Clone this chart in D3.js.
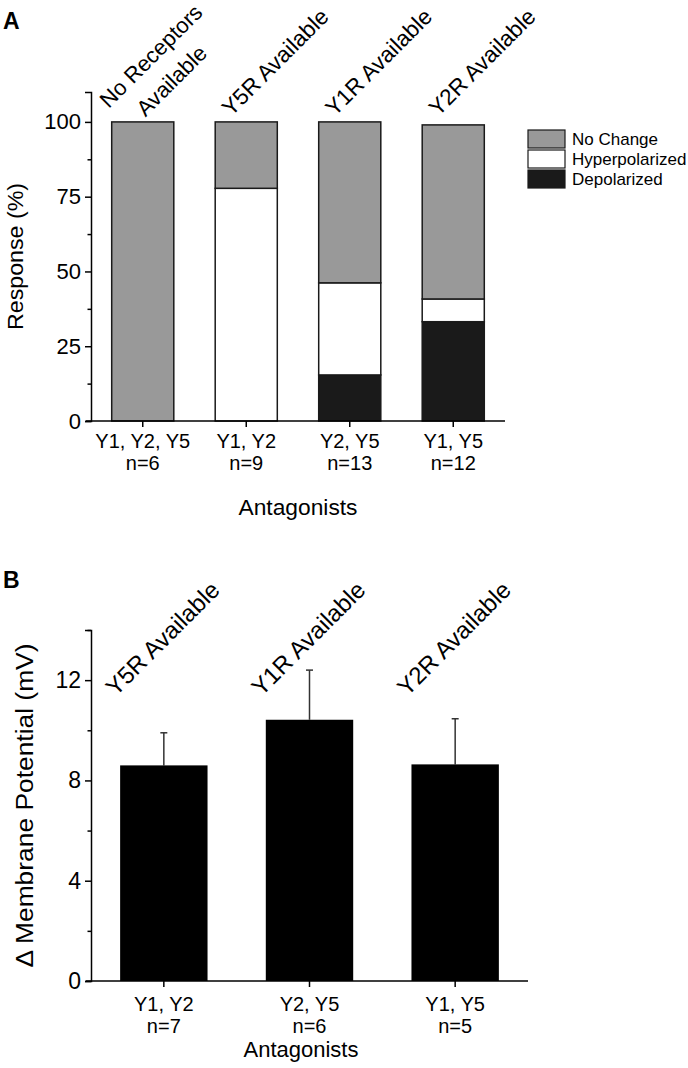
<!DOCTYPE html>
<html>
<head>
<meta charset="utf-8">
<script src="https://cdn.jsdelivr.net/npm/d3@7"></script>
<style>
  html, body { margin: 0; padding: 0; background: #fff; }
  svg { display: block; font-family: "Liberation Sans", Arial, Helvetica, sans-serif; }
</style>
</head>
<body>
<svg id="chart" width="688" height="1068"></svg>
<script>
// ---------- Panel A data ----------
const groupsA = ["Y1, Y2, Y5", "Y1, Y2", "Y2, Y5", "Y1, Y5"];
const nA = ["n=6", "n=9", "n=13", "n=12"];
const headersA = [["No Receptors", "Available"], ["Y5R Available"], ["Y1R Available"], ["Y2R Available"]];
const depolarized = [0, 0, 15.4, 33.2];
const hyperpolarized = [0, 77.8, 30.8, 7.6];
const noChange = [100, 22.2, 53.8, 58.2];
const seriesNamesA = ["No Change", "Hyperpolarized", "Depolarized"];
const seriesColorsA = ["#999999", "#ffffff", "#1a1a1a"];
const yTicksA = [0, 25, 50, 75, 100];
const yMinorA = [12.5, 37.5, 62.5, 87.5];

// ---------- Panel B data ----------
const groupsB = ["Y1, Y2", "Y2, Y5", "Y1, Y5"];
const nB = ["n=7", "n=6", "n=5"];
const headersB = ["Y5R Available", "Y1R Available", "Y2R Available"];
const meanB = [8.6, 10.42, 8.64];
const errB = [1.3, 1.98, 1.82];
const yTicksB = [0, 4, 8, 12];
const yMinorB = [2, 6, 10, 14];

const svg = d3.select("#chart");
const black = "#000";

function drawYAxis(g, y, x0, ticks, minor, fs) {
  const ax = d3.axisLeft(y).tickValues(ticks).tickSize(6).tickPadding(4).tickFormat(d3.format("d"));
  const ga = g.append("g").attr("transform", `translate(${x0},0)`).call(ax);
  ga.select(".domain").attr("stroke", black).attr("stroke-width", 1.5);
  ga.selectAll(".tick line").attr("stroke", black).attr("stroke-width", 1.5);
  ga.selectAll(".tick text").attr("font-size", fs).attr("fill", "#000")
    .attr("font-family", "Liberation Sans, Arial, sans-serif");
  const gm = g.append("g").attr("transform", `translate(${x0},0)`)
    .call(d3.axisLeft(y).tickValues(minor).tickSize(3.5).tickFormat(""));
  gm.select(".domain").remove();
  gm.selectAll(".tick line").attr("stroke", black).attr("stroke-width", 1.5);
}

function drawXAxis(g, x, y0, xStart, xEnd, labels1, labels2, line1, line2, fs) {
  g.append("line").attr("x1", xStart).attr("x2", xEnd).attr("y1", y0).attr("y2", y0)
    .attr("stroke", black).attr("stroke-width", 1.5);
  const ticks = g.append("g");
  x.domain().forEach((d, i) => {
    const cx = x(d) + x.bandwidth() / 2;
    ticks.append("line").attr("x1", cx).attr("x2", cx).attr("y1", y0).attr("y2", y0 + 6)
      .attr("stroke", black).attr("stroke-width", 1.5);
    ticks.append("text").attr("x", cx).attr("y", line1).attr("text-anchor", "middle")
      .attr("font-size", fs).text(labels1[i]);
    ticks.append("text").attr("x", cx).attr("y", line2).attr("text-anchor", "middle")
      .attr("font-size", fs).text(labels2[i]);
  });
}

// ================= Panel A =================
{
  const g = svg.append("g");
  const y = d3.scaleLinear().domain([0, 110]).range([421, 92]);
  const x = d3.scaleBand().domain(groupsA).range([91, 505]).paddingInner(0.4).paddingOuter(0.2);

  const rows = groupsA.map((gname, i) => ({
    group: gname,
    "Depolarized": depolarized[i],
    "Hyperpolarized": hyperpolarized[i],
    "No Change": noChange[i]
  }));
  const stack = d3.stack().keys(["Depolarized", "Hyperpolarized", "No Change"]);
  const layers = stack(rows);
  const colorOf = d3.scaleOrdinal().domain(seriesNamesA).range(seriesColorsA);

  layers.forEach(layer => {
    g.append("g").selectAll("rect")
      .data(layer.filter(d => d[1] - d[0] > 0))
      .join("rect")
      .attr("x", d => x(d.data.group))
      .attr("width", x.bandwidth())
      .attr("y", d => y(d[1]))
      .attr("height", d => y(d[0]) - y(d[1]))
      .attr("fill", colorOf(layer.key))
      .attr("stroke", "#1a1a1a")
      .attr("stroke-width", 1.5);
  });

  drawYAxis(g, y, 91, yTicksA, yMinorA, 22);
  drawXAxis(g, x, 421, 86, 505, groupsA, nA, 448, 470, 20);

  g.append("text").attr("transform", `translate(23,${(92 + 421) / 2}) rotate(-90)`)
    .attr("text-anchor", "middle").attr("font-size", 22)
    .attr("textLength", 147).attr("lengthAdjust", "spacingAndGlyphs").text("Response (%)");
  g.append("text").attr("x", 298).attr("y", 515).attr("text-anchor", "middle")
    .attr("font-size", 22).attr("textLength", 119).attr("lengthAdjust", "spacingAndGlyphs")
    .text("Antagonists");

  headersA.forEach((lines, i) => {
    const cx = x(groupsA[i]) + x.bandwidth() / 2;
    let ax, ay, fs;
    if (lines.length > 1) { ax = cx - 34; ay = 109; fs = 22; } else { ax = cx - 15; ay = 117; fs = 22.5; }
    const t = g.append("text").attr("transform", `translate(${ax},${ay}) rotate(-45)`)
      .attr("font-size", fs);
    lines.forEach((ln, k) => {
      t.append("tspan").attr("x", k * 20).attr("y", k * 32).text(ln);
    });
  });

  const lg = g.append("g");
  seriesNamesA.forEach((name, i) => {
    lg.append("rect").attr("x", 528).attr("y", 130 + i * 20).attr("width", 37).attr("height", 18)
      .attr("fill", seriesColorsA[i]).attr("stroke", "#1a1a1a").attr("stroke-width", 1.2);
    lg.append("text").attr("x", 572).attr("y", 145 + i * 20).attr("font-size", 17).text(name);
  });

  g.append("text").attr("x", 3).attr("y", 29).attr("font-size", 23).attr("font-weight", "bold").text("A");
}

// ================= Panel B =================
{
  const g = svg.append("g");
  const y = d3.scaleLinear().domain([0, 14]).range([981, 630]);
  const x = d3.scaleBand().domain(groupsB).range([91, 528]).paddingInner(0.4).paddingOuter(0.2);

  const eb = g.append("g");
  groupsB.forEach((gname, i) => {
    const cx = x(gname) + x.bandwidth() / 2;
    eb.append("line").attr("x1", cx).attr("x2", cx).attr("y1", y(meanB[i])).attr("y2", y(meanB[i] + errB[i]))
      .attr("stroke", "#333").attr("stroke-width", 1.5);
    eb.append("line").attr("x1", cx - 3.5).attr("x2", cx + 3.5)
      .attr("y1", y(meanB[i] + errB[i])).attr("y2", y(meanB[i] + errB[i]))
      .attr("stroke", "#333").attr("stroke-width", 1.5);
  });

  g.append("g").selectAll("rect")
    .data(groupsB.map((gname, i) => ({ group: gname, v: meanB[i] })))
    .join("rect")
    .attr("x", d => x(d.group))
    .attr("width", x.bandwidth())
    .attr("y", d => y(d.v))
    .attr("height", d => y(0) - y(d.v))
    .attr("fill", "#000");

  drawYAxis(g, y, 91, yTicksB, yMinorB, 23);
  drawXAxis(g, x, 981, 86, 528, groupsB, nB, 1011, 1033, 20);

  g.append("text").attr("transform", `translate(33,${(630 + 981) / 2}) rotate(-90)`)
    .attr("text-anchor", "middle").attr("font-size", 23)
    .attr("textLength", 324).attr("lengthAdjust", "spacingAndGlyphs")
    .text("\u0394 Membrane Potential (mV)");
  g.append("text").attr("x", 301).attr("y", 1057).attr("text-anchor", "middle")
    .attr("font-size", 22).text("Antagonists");

  headersB.forEach((lab, i) => {
    const cx = x(groupsB[i]) + x.bandwidth() / 2;
    g.append("text").attr("transform", `translate(${cx - 48},${697}) rotate(-45)`)
      .attr("font-size", 24).text(lab);
  });

  g.append("text").attr("x", 3).attr("y", 588).attr("font-size", 23).attr("font-weight", "bold").text("B");
}
</script>
</body>
</html>
